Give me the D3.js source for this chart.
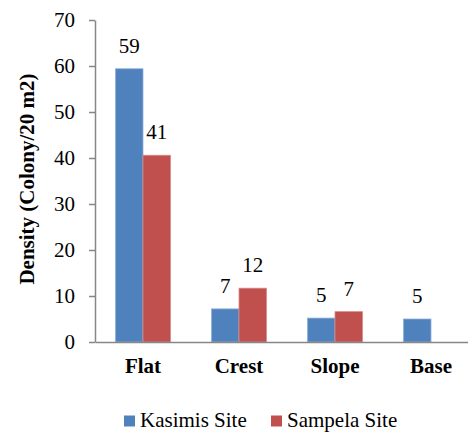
<!DOCTYPE html>
<html>
<head>
<meta charset="utf-8">
<script src="https://cdn.jsdelivr.net/npm/d3@7"></script>
<style>
  html, body { margin: 0; padding: 0; background: #fff; }
  svg { display: block; }
  svg text { font-family: "Liberation Serif", "Times New Roman", serif; }
</style>
</head>
<body>
<svg id="chart" width="468" height="432"></svg>
<script>
// Coral colony density by reef zone at two sites
const zones = ["Flat", "Crest", "Slope", "Base"];
const seriesNames = ["Kasimis Site", "Sampela Site"];
const kasimis = [59.4, 7.2, 5.2, 5.0];
const sampela = [40.6, 11.7, 6.6, null];
const yTicks = [0, 10, 20, 30, 40, 50, 60, 70];
const colors = ["#4F81BD", "#C0504D"];
const strokes = ["#8FB0DA", "#DA8A88"];
const serif = "'Liberation Serif', 'Times New Roman', serif";

const svg = d3.select("#chart");

const y = d3.scaleLinear().domain([0, 70]).range([342, 20]);
const x0 = d3.scaleBand().domain(zones).range([95, 479]).paddingInner(0).paddingOuter(0);
const x1 = d3.scaleBand().domain(seriesNames).range([0, x0.bandwidth()]).paddingInner(0).paddingOuter(0.745);

const rows = zones.map((z, i) => ({
  zone: z,
  values: [
    { name: seriesNames[0], value: kasimis[i], idx: 0 },
    { name: seriesNames[1], value: sampela[i], idx: 1 }
  ].filter(d => d.value != null)
}));

// Bars
const groups = svg.append("g").selectAll("g").data(rows).join("g")
  .attr("transform", d => `translate(${x0(d.zone)},0)`);

groups.selectAll("rect").data(d => d.values).join("rect")
  .attr("x", d => x1(d.name))
  .attr("width", x1.bandwidth())
  .attr("y", d => y(d.value))
  .attr("height", d => y(0) - y(d.value))
  .attr("fill", d => colors[d.idx])
  .attr("stroke", d => strokes[d.idx])
  .attr("stroke-width", 0.8);

// Value labels
const fmt = d3.format(".0f");
groups.selectAll("text.val").data(d => d.values).join("text")
  .attr("class", "val")
  .attr("x", d => x1(d.name) + x1.bandwidth() / 2)
  .attr("y", d => y(d.value) - 16)
  .attr("text-anchor", "middle")
  .style("font-family", serif)
  .style("font-size", "21px")
  .attr("fill", "#000")
  .text(d => fmt(d.value));

// Y axis
const yAxis = d3.axisLeft(y).tickValues(yTicks).tickSize(6).tickSizeOuter(0).tickPadding(14);
const gy = svg.append("g").attr("transform", "translate(95,0)").call(yAxis);
gy.select(".domain").attr("stroke", "#878787").attr("stroke-width", 1.5);
gy.selectAll(".tick line").attr("stroke", "#878787").attr("stroke-width", 1.5);
gy.selectAll(".tick text")
  .style("font-family", serif)
  .style("font-size", "21px")
  .attr("fill", "#000");

// X axis
const xAxis = d3.axisBottom(x0).tickSize(0).tickSizeOuter(0).tickPadding(16);
const gx = svg.append("g").attr("transform", `translate(0,${y(0)})`).call(xAxis);
gx.select(".domain").attr("stroke", "#878787").attr("stroke-width", 1.5);
gx.selectAll(".tick text")
  .style("font-family", serif)
  .style("font-size", "21px")
  .style("font-weight", "bold")
  .attr("fill", "#000");

// Y axis title
svg.append("text")
  .attr("transform", "translate(34,179) rotate(-90)")
  .attr("text-anchor", "middle")
  .style("font-family", serif)
  .style("font-size", "21px")
  .style("font-weight", "bold")
  .text("Density (Colony/20 m2)");

// Legend
const legendX = [124, 271];
const legend = svg.append("g").selectAll("g").data(seriesNames).join("g")
  .attr("transform", (d, i) => `translate(${legendX[i]},0)`);
legend.append("rect")
  .attr("x", 0).attr("y", 415.5).attr("width", 11).attr("height", 11)
  .attr("fill", (d, i) => colors[i]);
legend.append("text")
  .attr("x", 16).attr("y", 426.5)
  .style("font-family", serif)
  .style("font-size", "21px")
  .text(d => d);
</script>
</body>
</html>
